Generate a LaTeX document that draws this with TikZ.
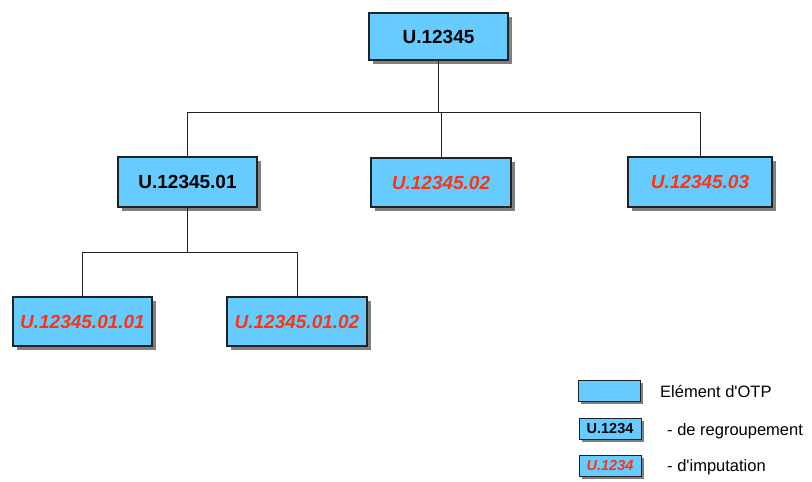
\documentclass[tikz,border=0pt]{standalone}
\usepackage{fontspec}
\setmainfont{Liberation Sans}
\usetikzlibrary{shadows}
\definecolor{otpfill}{HTML}{66CCFF}
\definecolor{otpred}{HTML}{FF3311}
\definecolor{otpline}{HTML}{222222}
\tikzset{
  otpbox/.style={draw=otpline, line width=1.2pt, fill=otpfill,
    drop shadow={shadow xshift=3.5pt, shadow yshift=-3.5pt, fill=black!50, opacity=1},
    inner sep=0pt, font=\fontsize{19}{22}\selectfont\bfseries},
  grouping/.style={otpbox, text=black},
  posting/.style={otpbox, text=otpred, font=\fontsize{19}{22}\selectfont\bfseries\itshape},
  legbox/.style={draw=otpline, line width=1pt, fill=otpfill,
    drop shadow={shadow xshift=2.5pt, shadow yshift=-2.5pt, fill=black!50, opacity=1},
    minimum width=62pt, minimum height=21pt, inner sep=0pt,
    font=\fontsize{14.5}{17}\selectfont\bfseries},
  legtext/.style={anchor=west, inner sep=0pt, font=\fontsize{16.5}{19}\selectfont},
  link/.style={draw=otpline, line width=0.9pt}
}
\begin{document}
\begin{tikzpicture}[x=1pt, y=-1pt]
\useasboundingbox (0,0) rectangle (812,482);

% tree of OTP elements
\node[grouping, minimum width=139pt, minimum height=47pt] (top) at (438.5,36.5) {U.12345};
\node[grouping, minimum width=139pt, minimum height=50pt] (n1) at (187.5,182) {U.12345.01};
\node[posting, minimum width=140pt, minimum height=49pt] (n2) at (441,182.5) {U.12345.02};
\node[posting, minimum width=144pt, minimum height=50pt] (n3) at (700,182) {U.12345.03};
\node[posting, minimum width=139pt, minimum height=49pt] (n11) at (82.5,321.5) {U.12345.01.01};
\node[posting, minimum width=140pt, minimum height=49pt] (n12) at (297,321.5) {U.12345.01.02};

% connectors
\coordinate (bus1) at (438.5,112);
\coordinate (bus2) at (187.5,252);
\draw[link] (top.south) -- (bus1);
\draw[link] (n1.north) |- (n3.north |- bus1) -- (n3.north);
\draw[link] (n2.north) -- (n2.north |- bus1);
\draw[link] (n1.south) -- (bus2);
\draw[link] (n11.north) |- (n12.north |- bus2) -- (n12.north);

% legend
\node[legbox] (l1) at (609,391) {};
\node[legbox, text=black] (l2) at (610,428.5) {U.1234};
\node[legbox, text=otpred, font=\fontsize{14.5}{17}\selectfont\bfseries\itshape] (l3) at (610,465.5) {U.1234};
\node[legtext] (t1) at (660,392) {Elément d\textquotesingle OTP};
\node[legtext] (t2) at (667,431) {- de regroupement};
\node[legtext] (t3) at (667,467) {- d\textquotesingle imputation};
\end{tikzpicture}
\end{document}
